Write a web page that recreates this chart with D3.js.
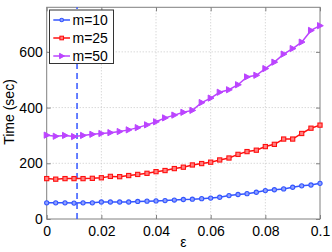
<!DOCTYPE html>
<html><head><meta charset="utf-8">
<script src="https://cdn.jsdelivr.net/npm/d3@7"></script>
<style>
html,body{margin:0;padding:0;background:#fff;}
svg{display:block;font-family:"Liberation Sans",Arial,Helvetica,sans-serif;}
</style></head>
<body>
<svg id="c" width="332" height="252"></svg>
<script>
const eps = [0,0.0033,0.0067,0.01,0.0133,0.0167,0.02,0.0233,0.0267,0.03,0.0333,0.0367,0.04,0.0433,0.0467,0.05,0.0533,0.0567,0.06,0.0633,0.0667,0.07,0.0733,0.0767,0.08,0.0833,0.0867,0.09,0.0933,0.0967,0.1];
const m10 = [58,58,58,57,58,58,61,61,61,61,63,64,65,66,68,70,71,73,75,78,84,88,91,96,102,105,108,114,119,122,128];
const m25 = [145,143,145,145,145,146,148,153,152,156,160,164,170,174,181,186,194,199,204,212,219,232,242,247,260,268,287,287,307,326,337];
const m50 = [301,297,300,296,300,304,307,310,314,320,328,338,349,363,373,383,390,418,434,455,464,482,510,516,540,563,592,612,635,677,694];
const seriesNames = ["m=10","m=25","m=50"];
const xTicks = [0,0.02,0.04,0.06,0.08,0.1];
const xTickLabels = ["0","0.02","0.04","0.06","0.08","0.1"];
const yTicks = [0,200,400,600];
const markerEps = 0.0111;

const colors = ["#3355ff","#ff1010","#bb44ff"];
const fills = ["#8fa0ff","#ff8080","#bb44ff"];
const L=46.7, R=320, T=7.3, B=219;
const svg = d3.select("#c");
const x = d3.scaleLinear().domain([0,0.1]).range([L,R]);
const y = d3.scaleLinear().domain([0,760]).range([B,T]);

// grid
const g = svg.append("g");
g.selectAll(".gx").data(xTicks.slice(1,-1)).enter().append("line")
 .attr("x1",d=>x(d)).attr("x2",d=>x(d)).attr("y1",T).attr("y2",B)
 .attr("stroke","#c8c8c8").attr("stroke-width",1).attr("stroke-dasharray","1,2");
g.selectAll(".gy").data(yTicks.slice(1)).enter().append("line")
 .attr("y1",d=>y(d)).attr("y2",d=>y(d)).attr("x1",L).attr("x2",R)
 .attr("stroke","#c8c8c8").attr("stroke-width",1).attr("stroke-dasharray","1,2");

// axes via d3
const axCol="#808080";
const xa = svg.append("g").attr("transform",`translate(0,${B})`)
 .call(d3.axisBottom(x).tickValues(xTicks).tickFormat((d,i)=>xTickLabels[i]).tickSizeInner(-4).tickSizeOuter(0).tickPadding(7));
const ya = svg.append("g").attr("transform",`translate(${L},0)`)
 .call(d3.axisLeft(y).tickValues(yTicks).tickFormat(d3.format("d")).tickSizeInner(-4).tickSizeOuter(0).tickPadding(4));
const xt = svg.append("g").attr("transform",`translate(0,${T})`)
 .call(d3.axisTop(x).tickValues(xTicks).tickFormat("").tickSizeInner(-4).tickSizeOuter(0));
const yr = svg.append("g").attr("transform",`translate(${R},0)`)
 .call(d3.axisRight(y).tickValues(yTicks).tickFormat("").tickSizeInner(-4).tickSizeOuter(0));
[xa,ya,xt,yr].forEach(a=>{
  a.select(".domain").remove();
  a.selectAll("line").attr("stroke",axCol);
  a.selectAll("text").attr("fill","#000").style("font-size","14px").style("font-family","'Liberation Sans',Arial,sans-serif");
});
svg.append("rect").attr("x",L).attr("y",T).attr("width",R-L).attr("height",B-T)
 .attr("fill","none").attr("stroke",axCol).attr("stroke-width",1);

// dashed marker line
svg.append("line").attr("x1",x(markerEps)).attr("x2",x(markerEps)).attr("y1",y(0)).attr("y2",y(760))
 .attr("stroke","#3355ff").attr("stroke-width",1.5).attr("stroke-dasharray","6,4");

// series
const data=[m10,m25,m50];
const line = d3.line().x((d,i)=>x(eps[i])).y(d=>y(d));
function marker(sel, k, cx, cy, s){
  s = s||1;
  if(k===0){
    sel.append("circle").attr("cx",cx).attr("cy",cy).attr("r",2.1*s)
      .attr("fill",fills[0]).attr("stroke",colors[0]).attr("stroke-width",1.1);
  } else if(k===1){
    const h=2.1*s;
    sel.append("rect").attr("x",cx-h).attr("y",cy-h).attr("width",2*h).attr("height",2*h)
      .attr("fill",fills[1]).attr("stroke",colors[1]).attr("stroke-width",1.1);
  } else {
    sel.append("path").attr("d",`M${cx+3.3*s},${cy} L${cx-2.5*s},${cy-3.1*s} L${cx-2.5*s},${cy+3.1*s} Z`)
      .attr("fill",colors[2]).attr("stroke",colors[2]).attr("stroke-width",1);
  }
}
data.forEach((s,k)=>{
  svg.append("path").datum(s).attr("d",line).attr("fill","none")
    .attr("stroke",colors[k]).attr("stroke-width",1.5);
  const gm = svg.append("g");
  s.forEach((v,i)=>marker(gm,k,x(eps[i]),y(v)));
});

// labels
svg.append("text").attr("transform","translate(14,112) rotate(-90)")
 .attr("text-anchor","middle").style("font-size","14px").text("Time (sec)");
svg.append("text").attr("x",(L+R)/2).attr("y",247).attr("text-anchor","middle")
 .style("font-size","14px").text("ε");

// legend
const lg = svg.append("g");
lg.append("rect").attr("x",49.5).attr("y",10).attr("width",64).attr("height",53.5)
 .attr("fill","#fff").attr("stroke","#333").attr("stroke-width",1);
seriesNames.forEach((n,k)=>{
  const yy = 20+k*18;
  lg.append("line").attr("x1",53.3).attr("x2",70).attr("y1",yy).attr("y2",yy)
   .attr("stroke",colors[k]).attr("stroke-width",1.5);
  marker(lg,k,61.7,yy,0.85);
  lg.append("text").attr("x",72.5).attr("y",yy).attr("dy","0.36em")
   .style("font-size","14px").text(n);
});
</script>
</body></html>
